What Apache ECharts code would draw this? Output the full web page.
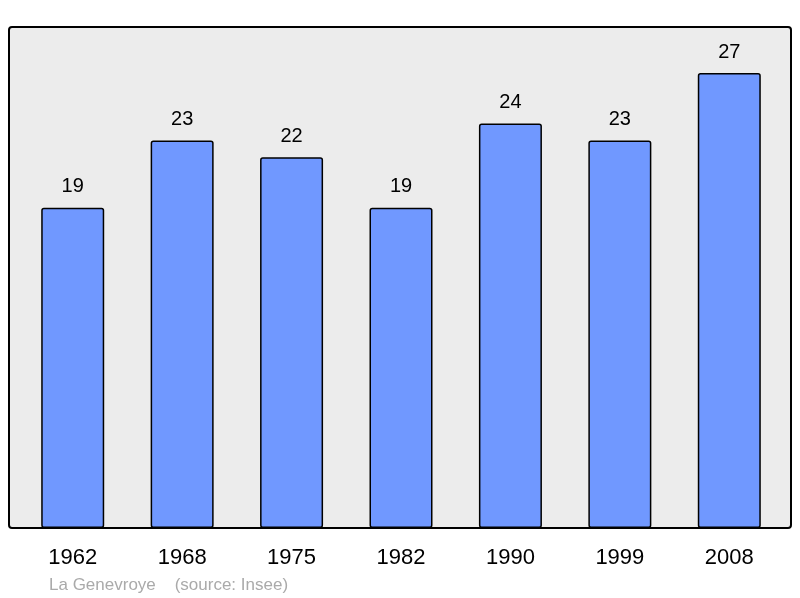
<!DOCTYPE html>
<html><head><meta charset="utf-8">
<script src="https://cdn.jsdelivr.net/npm/echarts@6/dist/echarts.min.js"></script>
<style>html,body{margin:0;padding:0;background:#fff}#c{width:800px;height:598px}</style>
</head><body><div id="c"></div>
<script>
const categories = ['1962','1968','1975','1982','1990','1999','2008'];
const population = [19,23,22,19,24,23,27];
const footerText = 'La Genevroye    (source: Insee)';

const chart = echarts.init(document.getElementById('c'), null, {renderer:'canvas'});
chart.setOption({
  animation:false,
  graphic:[
    {type:'rect', z:-10, shape:{x:9,y:27,width:782,height:501,r:3},
     style:{fill:'#ececec', stroke:'#000', lineWidth:2}},
    {type:'text', left:49, top:577, style:{text:footerText, fill:'#aaaaaa', font:'17px "Liberation Sans", Arial, sans-serif'}}
  ],
  grid:{left:18, right:16, top:27, bottom:70},
  xAxis:{type:'category', data:categories,
    axisLine:{show:false}, axisTick:{show:false},
    axisLabel:{color:'#000', fontSize:22, fontFamily:'Liberation Sans, Arial, sans-serif', margin:19}},
  yAxis:{type:'value', min:0, max:29.73, show:false, splitLine:{show:false}},
  series:[{type:'bar', data:population, barWidth:63,
    itemStyle:{color:'#7098ff', borderColor:'#000', borderWidth:1.5, borderRadius:2},
    label:{show:true, position:'top', distance:11, color:'#000', fontSize:20,
      fontFamily:'Liberation Sans, Arial, sans-serif'}}]
});
</script></body></html>
